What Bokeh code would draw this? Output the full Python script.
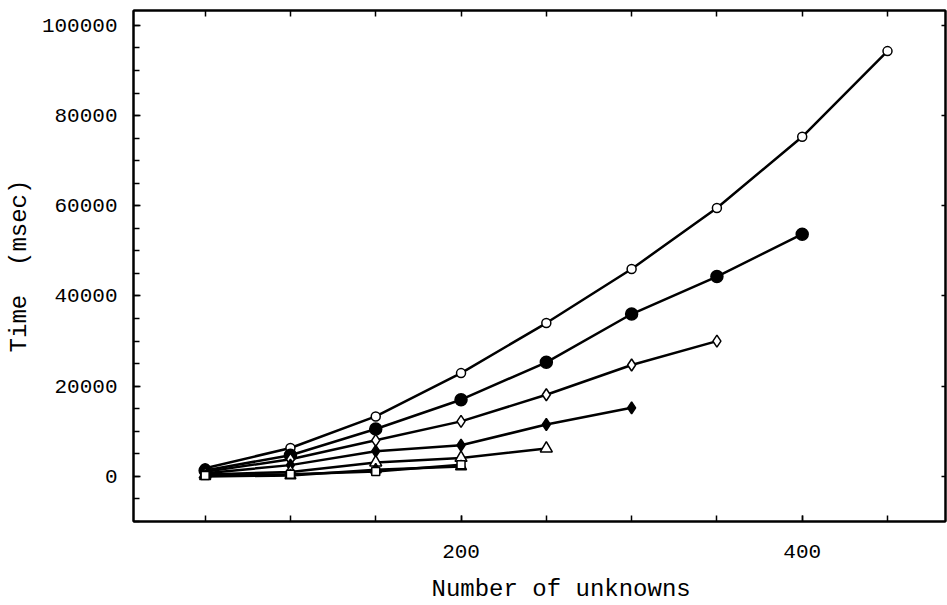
from bokeh.plotting import figure
from bokeh.models import FixedTicker, LinearAxis, Range1d, BasicTickFormatter
from bokeh.embed import file_html
from bokeh.resources import INLINE

# Data
unknowns = [50, 100, 150, 200, 250, 300, 350, 400, 450]
s_open_circle = [1800, 6300, 13300, 22900, 34000, 46000, 59500, 75300, 94300]
s_filled_circle = [1300, 4700, 10500, 17000, 25300, 36000, 44300, 53700]
s_open_diamond = [1000, 3800, 8000, 12200, 18100, 24700, 30000]
s_filled_diamond = [700, 2500, 5600, 6900, 11500, 15200]
s_open_triangle = [400, 1000, 3100, 4100, 6200]
s_filled_triangle = [0, 200, 1500, 2200]
s_open_square = [200, 500, 1100, 2600]

x_tick_labels = [200, 400]
x_minor_ticks = [50, 100, 150, 200, 250, 300, 350, 400, 450]
y_tick_labels = [0, 20000, 40000, 60000, 80000, 100000]
y_minor_ticks = list(range(-10000, 100001, 5000))
NB = "\u00a0"
x_title = NB * 3 + "Number of unknowns"
y_title = "Time" + NB * 2 + "(msec)"

FONT = "Liberation Mono"
WEIGHT = "normal"

p = figure(width=947, height=605, output_backend="svg", toolbar_location=None,
           x_range=Range1d(8, 484), y_range=Range1d(-10000, 103300),
           min_border_left=133, min_border_right=2, min_border_top=10,
           min_border_bottom=84)
p.xgrid.visible = False
p.ygrid.visible = False
p.outline_line_color = "black"
p.outline_line_width = 2
p.background_fill_color = "white"
p.border_fill_color = "white"

series = [
    (s_open_circle, "circle", 9, "white"),
    (s_filled_circle, "circle", 12, "black"),
    (s_open_diamond, "diamond", 12, "white"),
    (s_filled_diamond, "diamond", 12, "black"),
    (s_open_triangle, "triangle", 12, "white"),
    (s_filled_triangle, "triangle", 11, "black"),
    (s_open_square, "square", 8, "white"),
]
for vals, marker, size, fill in series:
    xs = unknowns[:len(vals)]
    p.line(xs, vals, line_color="black", line_width=2.5)
for vals, marker, size, fill in series:
    xs = unknowns[:len(vals)]
    p.scatter(xs, vals, marker=marker, size=size, fill_color=fill,
              line_color="black", line_width=1.5)

def style(ax):
    ax.axis_line_color = "black"
    ax.axis_line_width = 2
    ax.major_tick_line_color = "black"
    ax.minor_tick_line_color = "black"
    ax.major_tick_line_width = 1.5
    ax.minor_tick_line_width = 1.5
    ax.major_tick_out = 0
    ax.minor_tick_out = 0
    ax.major_label_text_font = FONT
    ax.axis_label_text_font = FONT
    ax.major_label_text_color = "black"
    ax.axis_label_text_color = "black"
    ax.major_label_text_font_style = WEIGHT
    ax.axis_label_text_font_style = WEIGHT

xa = p.xaxis[0]
style(xa)
xa.ticker = FixedTicker(ticks=x_tick_labels, minor_ticks=x_minor_ticks)
xa.major_tick_in = 6
xa.minor_tick_in = 6
xa.major_label_text_font_size = "21px"
xa.major_label_standoff = 23
xa.axis_label = x_title
xa.axis_label_text_font_size = "24px"
xa.axis_label_standoff = 15

ya = p.yaxis[0]
style(ya)
ya.ticker = FixedTicker(ticks=y_tick_labels, minor_ticks=y_minor_ticks)
ya.formatter = BasicTickFormatter(use_scientific=False)
ya.major_tick_in = 7
ya.minor_tick_in = 6
ya.major_label_text_font_size = "21px"
ya.major_label_standoff = 16
ya.axis_label = y_title
ya.axis_label_text_font_size = "24px"
ya.axis_label_standoff = 6

top = LinearAxis(ticker=FixedTicker(ticks=[], minor_ticks=x_minor_ticks))
style(top)
top.minor_tick_in = 6
p.add_layout(top, "above")

right = LinearAxis(ticker=FixedTicker(ticks=[], minor_ticks=y_tick_labels))
style(right)
right.minor_tick_in = 4
p.add_layout(right, "right")

open("out.html", "w").write(file_html(p, INLINE))
